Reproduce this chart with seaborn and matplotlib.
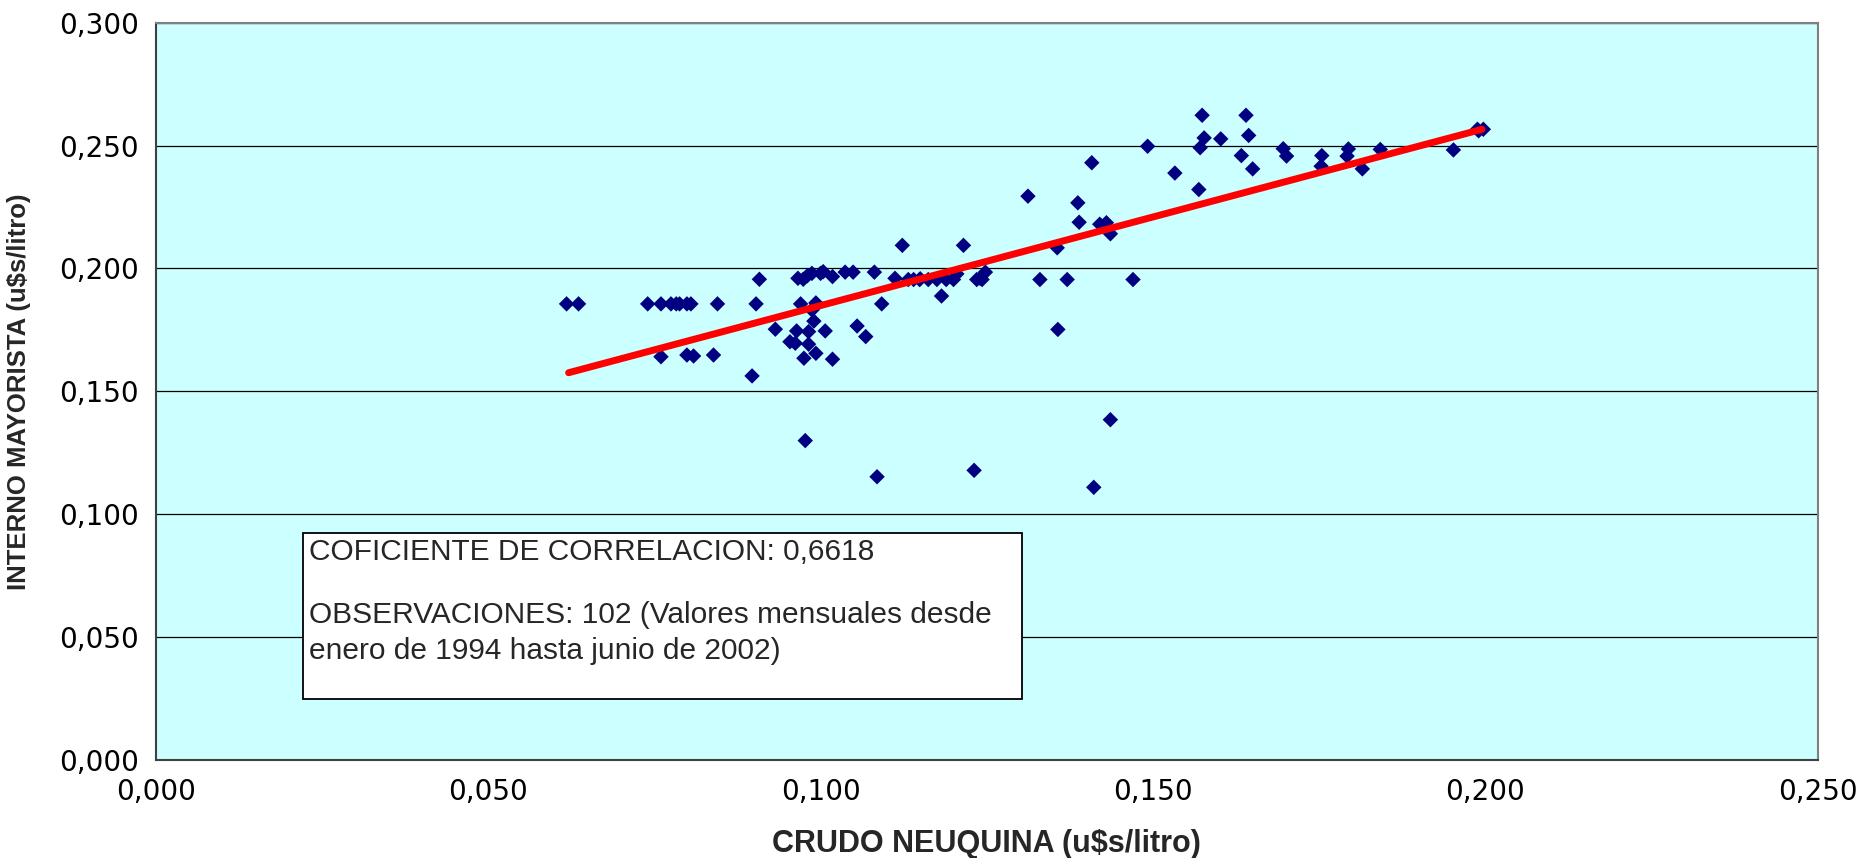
# Scatter: crudo Neuquina vs interno mayorista (u$s/litro)

import pandas as pd
import matplotlib.pyplot as plt
import seaborn as sns
from matplotlib.patches import Rectangle
from matplotlib.ticker import FuncFormatter

# 1. Data
crudo = [0.0618, 0.0636, 0.0740, 0.0760, 0.0775, 0.0783, 0.0799, 0.0805, 0.0845, 0.0903,
         0.0970, 0.0993, 0.1092, 0.0908, 0.0974, 0.0980, 0.0987, 0.1004, 0.1018, 0.1037,
         0.1049, 0.1081, 0.0987, 0.0990, 0.0932, 0.0964, 0.0982, 0.1007, 0.1055, 0.1068,
         0.0954, 0.0962, 0.0982, 0.0760, 0.0799, 0.0809, 0.0839, 0.0975, 0.0993, 0.1018,
         0.0897, 0.0977, 0.1085, 0.1112, 0.1132, 0.1149, 0.1162, 0.1189, 0.1200, 0.1205,
         0.1235, 0.1243, 0.1248, 0.1182, 0.1123, 0.1215, 0.1312, 0.1387, 0.1408, 0.1389,
         0.1430, 0.1436, 0.1356, 0.1492, 0.1533, 0.1569, 0.1571, 0.1577, 0.1602, 0.1644,
         0.1574, 0.1640, 0.1633, 0.1650, 0.1696, 0.1701, 0.1754, 0.1753, 0.1794, 0.1792,
         0.1815, 0.1842, 0.1952, 0.1988, 0.1997, 0.1330, 0.1371, 0.1470, 0.1231, 0.1357,
         0.1436, 0.1411, 0.0966, 0.1000, 0.1140, 0.1175, 0.0990, 0.0788, 0.1240, 0.1420,
         0.1990, 0.1150]
interno = [0.1856, 0.1856, 0.1856, 0.1856, 0.1856, 0.1856, 0.1856, 0.1856, 0.1856, 0.1856,
           0.1856, 0.1860, 0.1856, 0.1956, 0.1956, 0.1970, 0.1980, 0.1987, 0.1967, 0.1985,
           0.1985, 0.1985, 0.1831, 0.1786, 0.1753, 0.1746, 0.1743, 0.1746, 0.1766, 0.1723,
           0.1702, 0.1696, 0.1692, 0.1641, 0.1648, 0.1644, 0.1648, 0.1635, 0.1655, 0.1631,
           0.1563, 0.1300, 0.1153, 0.1960, 0.1955, 0.1955, 0.1955, 0.1955, 0.1955, 0.1978,
           0.1955, 0.1955, 0.1985, 0.1888, 0.2094, 0.2094, 0.2294, 0.2267, 0.2430, 0.2188,
           0.2186, 0.2141, 0.2084, 0.2497, 0.2388, 0.2321, 0.2491, 0.2531, 0.2527, 0.2541,
           0.2623, 0.2623, 0.2459, 0.2405, 0.2487, 0.2457, 0.2459, 0.2416, 0.2486, 0.2457,
           0.2405, 0.2484, 0.2482, 0.2566, 0.2566, 0.1955, 0.1955, 0.1955, 0.1179, 0.1752,
           0.1385, 0.1110, 0.1960, 0.1980, 0.1955, 0.1955, 0.1840, 0.1856, 0.1960, 0.2180,
           0.2560, 0.1958]

# linear trend line (ends)
trend_x = [0.0621, 0.1995]
trend_y = [0.1576, 0.2566]

x_ticks = [0.0, 0.05, 0.10, 0.15, 0.20, 0.25]
y_ticks = [0.0, 0.05, 0.10, 0.15, 0.20, 0.25, 0.30]

note_lines = ["COFICIENTE DE CORRELACION: 0,6618",
              "OBSERVACIONES: 102 (Valores mensuales desde",
              "enero de 1994 hasta junio de 2002)"]

df = pd.DataFrame({"crudo": crudo, "interno": interno})
trend = pd.DataFrame({"x": trend_x, "y": trend_y})

# 2. Plot
sns.set_style("white")
plt.rcParams['font.family'] = ['Liberation Sans', 'DejaVu Sans']

fig = plt.figure(figsize=(18.63, 8.58), dpi=100)
ax = fig.add_axes([0.0836, 0.1139, 0.8921, 0.8598])
ax.set_facecolor("#CCFFFF")

sns.scatterplot(data=df, x="crudo", y="interno", marker="D", s=62,
                color="#000080", edgecolor="none", ax=ax, zorder=3)
sns.lineplot(data=trend, x="x", y="y", color="#FF0000", linewidth=5,
             ax=ax, zorder=4)

ax.set_xlim(0, 0.25)
ax.set_ylim(0, 0.30)
ax.set_xticks(x_ticks)
ax.set_yticks(y_ticks)
comma = FuncFormatter(lambda v, p: f"{v:.3f}".replace(".", ","))
ax.xaxis.set_major_formatter(comma)
ax.yaxis.set_major_formatter(comma)
ax.tick_params(axis="both", direction="out", length=6, width=1, color="black",
               labelcolor="black", labelsize=20, pad=6)
for lab in ax.get_xticklabels() + ax.get_yticklabels():
    lab.set_family("DejaVu Sans")
ax.tick_params(axis="x", pad=7)

ax.grid(axis="y", color="black", linewidth=0.9)
ax.set_axisbelow(True)
for side in ["top", "right"]:
    ax.spines[side].set_color("#808080")
    ax.spines[side].set_linewidth(1.5)
for side in ["left", "bottom"]:
    ax.spines[side].set_color("#404040")
    ax.spines[side].set_linewidth(1.5)

ax.set_xlabel("CRUDO NEUQUINA (u$s/litro)", fontsize=22, fontweight="bold", labelpad=16)
ax.set_ylabel("INTERNO MAYORISTA (u$s/litro)", fontsize=18.5, fontweight="bold", labelpad=20)

# 3. Text box
ax.add_patch(Rectangle((0.0886, 0.0831), 0.4326, 0.2249, transform=ax.transAxes,
                       facecolor="white", edgecolor="black", linewidth=1.3, zorder=5))
for txt, ypos in zip(note_lines, [0.2824, 0.197, 0.148]):
    ax.text(0.0922, ypos, txt, transform=ax.transAxes, fontsize=21.5,
            va="center", ha="left", zorder=6)

fig.savefig("out.png", dpi=100)
